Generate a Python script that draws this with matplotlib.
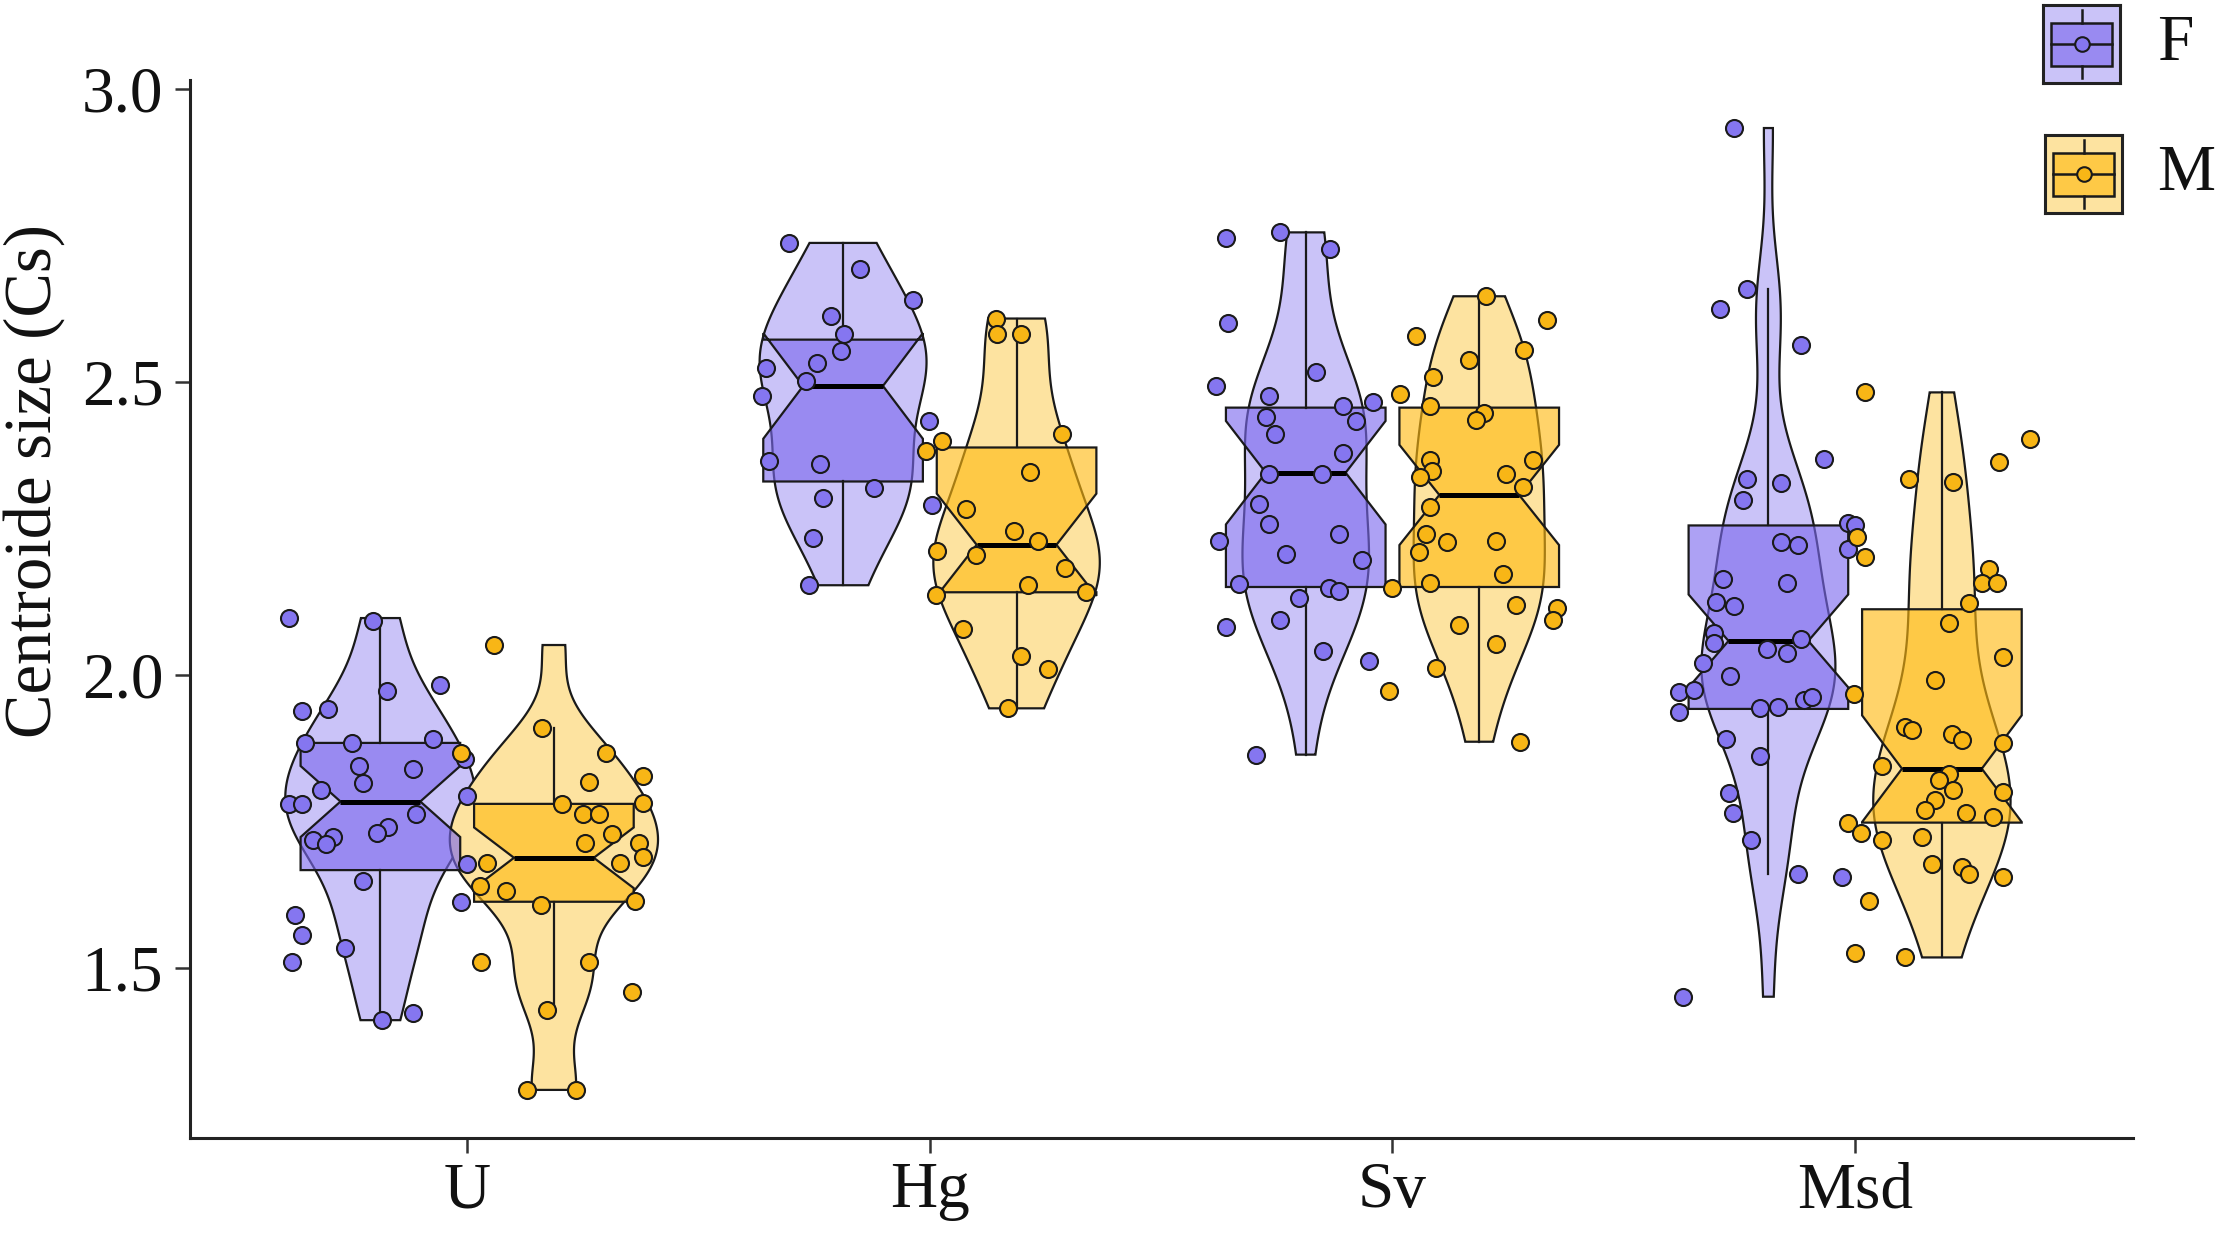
import numpy as np
import matplotlib
matplotlib.use('Agg')
import matplotlib.pyplot as plt
from matplotlib.patches import Polygon, Rectangle, Circle

plt.rcParams['font.family'] = ['Liberation Serif', 'DejaVu Serif']

categories = ['U', 'Hg', 'Sv', 'Msd']
sexes = ['F', 'M']

# ---- jittered observations: (horizontal offset from category centre, centroid size)
u_f_dx = [-0.386, -0.203, -0.058, -0.174, -0.357, -0.300, -0.350, -0.248, -0.074, -0.005, -0.234,
          -0.118, -0.225, -0.316, -0.384, -0.357, 0.000, -0.111, -0.172, -0.195, -0.333, -0.290,
          -0.306, 0.000, -0.225, -0.014, -0.372, -0.356, -0.379, -0.264, -0.184, -0.116]
u_f_y = [2.097, 2.092, 1.982, 1.972, 1.938, 1.942, 1.884, 1.884, 1.891, 1.857, 1.844,
         1.839, 1.816, 1.804, 1.780, 1.780, 1.794, 1.762, 1.741, 1.730, 1.718, 1.723,
         1.711, 1.677, 1.648, 1.613, 1.590, 1.557, 1.511, 1.534, 1.411, 1.424]

u_m_dx = [0.058, 0.162, 0.300, 0.380, 0.264, 0.380, 0.206, 0.251, 0.285, 0.312, 0.254, 0.372, 0.380,
          0.042, 0.331, 0.027, 0.085, 0.159, 0.362, -0.014, 0.029, 0.264, 0.356, 0.172, 0.130, 0.235]
u_m_y = [2.051, 1.909, 1.867, 1.828, 1.817, 1.782, 1.780, 1.762, 1.762, 1.728, 1.713, 1.713, 1.689,
         1.679, 1.679, 1.640, 1.631, 1.608, 1.615, 1.867, 1.511, 1.511, 1.459, 1.429, 1.292, 1.292]

hg_f_dx = [-0.304, -0.151, -0.037, -0.213, -0.185, -0.193, -0.244, -0.355, -0.268, -0.362, -0.002,
           -0.348, -0.237, -0.120, -0.231, 0.005, -0.253, -0.261]
hg_f_y = [2.737, 2.692, 2.639, 2.613, 2.582, 2.552, 2.532, 2.524, 2.502, 2.475, 2.434,
          2.365, 2.359, 2.319, 2.302, 2.290, 2.233, 2.153]

hg_m_dx = [0.144, 0.146, 0.197, 0.286, 0.027, -0.009, 0.217, 0.078, 0.182, 0.234, 0.016, 0.100,
           0.292, 0.212, 0.013, 0.338, 0.071, 0.197, 0.255, 0.168]
hg_m_y = [2.608, 2.582, 2.582, 2.411, 2.399, 2.382, 2.347, 2.283, 2.246, 2.228, 2.212, 2.204,
          2.182, 2.154, 2.136, 2.141, 2.078, 2.032, 2.010, 1.943]

sv_f_dx = [-0.360, -0.244, -0.135, -0.355, -0.165, -0.382, -0.266, -0.042, -0.108, -0.273, -0.078,
           -0.253, -0.108, -0.266, -0.152, -0.289, -0.266, -0.115, -0.376, -0.230, -0.065, -0.331,
           -0.137, -0.115, -0.201, -0.244, -0.360, -0.151, -0.050, -0.296]
sv_f_y = [2.745, 2.755, 2.727, 2.601, 2.516, 2.493, 2.476, 2.465, 2.458, 2.440, 2.434,
          2.411, 2.378, 2.343, 2.343, 2.292, 2.257, 2.241, 2.229, 2.207, 2.196, 2.155,
          2.149, 2.143, 2.131, 2.094, 2.081, 2.040, 2.023, 1.864]

sv_m_dx = [0.203, 0.333, 0.050, 0.284, 0.166, 0.088, 0.016, 0.080, 0.197, 0.181, 0.080, 0.304,
           0.086, 0.059, 0.246, 0.282, 0.080, 0.073, 0.118, 0.224, 0.057, 0.239, 0.080, 0.000,
           0.267, 0.355, 0.347, 0.143, 0.224, 0.093, -0.007, 0.275]
sv_m_y = [2.646, 2.606, 2.578, 2.555, 2.538, 2.509, 2.480, 2.458, 2.446, 2.435, 2.367, 2.366,
          2.348, 2.338, 2.342, 2.320, 2.287, 2.240, 2.226, 2.229, 2.210, 2.172, 2.156, 2.148,
          2.120, 2.114, 2.094, 2.086, 2.053, 2.011, 1.972, 1.886]

msd_f_dx = [-0.262, -0.233, -0.292, -0.117, -0.067, -0.233, -0.160, -0.243, -0.016, 0.000, -0.160,
            -0.124, -0.016, -0.285, -0.147, -0.300, -0.262, -0.305, -0.305, -0.117, -0.190, -0.147,
            -0.329, -0.270, -0.380, -0.349, -0.110, -0.093, -0.205, -0.167, -0.380, -0.279, -0.205,
            -0.272, -0.263, -0.226, -0.124, -0.029, -0.373]
msd_f_y = [2.933, 2.659, 2.625, 2.562, 2.368, 2.334, 2.327, 2.298, 2.260, 2.255, 2.227,
           2.221, 2.214, 2.163, 2.157, 2.124, 2.117, 2.072, 2.055, 2.062, 2.044, 2.038,
           2.020, 1.998, 1.970, 1.974, 1.958, 1.963, 1.943, 1.946, 1.937, 1.891, 1.861,
           1.798, 1.764, 1.719, 1.661, 1.655, 1.451]

msd_m_dx = [0.021, 0.378, 0.311, 0.116, 0.211, 0.005, 0.021, 0.290, 0.275, 0.306, 0.245, 0.202,
            0.320, 0.173, -0.002, 0.108, 0.123, 0.209, 0.231, 0.320, 0.058, 0.202, 0.182, 0.211,
            0.319, 0.173, 0.152, 0.240, 0.297, -0.016, 0.013, 0.058, 0.144, 0.166, 0.231, 0.247,
            0.319, 0.029, 0.000, 0.108]
msd_m_y = [2.482, 2.403, 2.363, 2.334, 2.329, 2.236, 2.202, 2.180, 2.157, 2.157, 2.122, 2.088,
           2.031, 1.991, 1.968, 1.911, 1.906, 1.900, 1.889, 1.883, 1.844, 1.831, 1.820, 1.803,
           1.800, 1.786, 1.769, 1.765, 1.758, 1.748, 1.731, 1.719, 1.724, 1.677, 1.673, 1.660,
           1.656, 1.615, 1.525, 1.518]

# ---- box statistics, order: U-F, U-M, Hg-F, Hg-M, Sv-F, Sv-M, Msd-F, Msd-M
box_q1 = [1.667, 1.613, 2.330, 2.141, 2.150, 2.150, 1.942, 1.748]
box_med = [1.784, 1.688, 2.493, 2.222, 2.345, 2.307, 2.058, 1.840]
box_q3 = [1.884, 1.780, 2.572, 2.388, 2.456, 2.456, 2.255, 2.112]
whisk_lo = [1.411, 1.429, 2.153, 1.943, 1.864, 1.886, 1.661, 1.518]
whisk_hi = [2.097, 1.909, 2.737, 2.608, 2.755, 2.646, 2.659, 2.482]

groups_dx = [u_f_dx, u_m_dx, hg_f_dx, hg_m_dx, sv_f_dx, sv_m_dx, msd_f_dx, msd_m_dx]
groups_y = [u_f_y, u_m_y, hg_f_y, hg_m_y, sv_f_y, sv_m_y, msd_f_y, msd_m_y]

violin_fill = {'F': '#CAC3F8', 'M': '#FDE3A0'}
box_fill = {'F': (0.482, 0.408, 0.933, 0.62), 'M': (1.0, 0.725, 0.06, 0.62)}
point_fill = {'F': '#8576F0', 'M': '#F8B616'}
edge = '#1a1a1a'

dodge = 0.1875
violin_half = 0.225
box_width = 0.345


def kde_nrd0(y, grid):
    y = np.asarray(y)
    n = len(y)
    sd = np.std(y, ddof=1)
    q75, q25 = np.percentile(y, [75, 25])
    lo = min(sd, (q75 - q25) / 1.34)
    bw = 0.9 * lo * n ** (-0.2)
    z = (grid[:, None] - y[None, :]) / bw
    return np.exp(-0.5 * z ** 2).sum(axis=1) / (n * bw * np.sqrt(2 * np.pi))


fig = plt.figure(figsize=(22.17, 12.38), dpi=100)
ax = fig.add_axes([0.0855, 0.0808, 0.8765, 0.8546])

# densities
grids, dens = [], []
for ys in groups_y:
    g = np.linspace(min(ys), max(ys), 512)
    grids.append(g)
    dens.append(kde_nrd0(ys, g))
dmax = max(d.max() for d in dens)

k = 0
for ci, cat in enumerate(categories):
    for si, sx in enumerate(sexes):
        centre = ci + (-dodge if sx == 'F' else dodge)
        g, d = grids[k], dens[k]
        hw = violin_half * d / dmax
        xs = np.concatenate([centre + hw, (centre - hw)[::-1]])
        yv = np.concatenate([g, g[::-1]])
        ax.add_patch(Polygon(np.column_stack([xs, yv]), closed=True, facecolor=violin_fill[sx],
                             edgecolor=edge, lw=1.6, zorder=1))
        k += 1

k = 0
for ci, cat in enumerate(categories):
    for si, sx in enumerate(sexes):
        centre = ci + (-dodge if sx == 'F' else dodge)
        n = len(groups_y[k])
        iqr = box_q3[k] - box_q1[k]
        half_ci = 1.58 * iqr / np.sqrt(n)
        stats = [dict(med=box_med[k], q1=box_q1[k], q3=box_q3[k], whislo=whisk_lo[k],
                      whishi=whisk_hi[k], cilo=box_med[k] - half_ci, cihi=box_med[k] + half_ci,
                      fliers=[])]
        ax.bxp(stats, positions=[centre], widths=box_width, shownotches=True, showcaps=False,
               showfliers=False, patch_artist=True, manage_ticks=False,
               boxprops=dict(facecolor=box_fill[sx], edgecolor=edge, lw=1.6),
               whiskerprops=dict(color=edge, lw=1.6),
               medianprops=dict(color='black', lw=3.6, solid_capstyle='butt'),
               zorder=2)
        k += 1

k = 0
for ci, cat in enumerate(categories):
    for si, sx in enumerate(sexes):
        xs = ci + np.asarray(groups_dx[k])
        ax.scatter(xs, groups_y[k], s=150, facecolor=point_fill[sx], edgecolor=edge,
                   linewidth=1.5, zorder=3)
        k += 1

ax.set_xlim(-0.6, 3.6)
ax.set_ylim(1.21, 3.015)
ax.set_xticks(range(len(categories)))
ax.set_xticklabels(categories)
ax.set_yticks([1.5, 2.0, 2.5, 3.0])
ax.set_yticklabels(['1.5', '2.0', '2.5', '3.0'])
for s in ['top', 'right']:
    ax.spines[s].set_visible(False)
for s in ['left', 'bottom']:
    ax.spines[s].set_linewidth(2.2)
    ax.spines[s].set_color('#222222')
ax.tick_params(axis='both', length=11, width=1.8, color='#333333', labelsize=47,
               labelcolor='#111111')
ax.tick_params(axis='x', pad=6)
ax.tick_params(axis='y', pad=8)

fig.text(0.0153, 0.6115, 'Centroide size (Cs)', rotation=90, ha='center', va='center',
         fontsize=48, color='#111111')

# legend keys
key_pos = {'F': (2043, 5), 'M': (2045, 135)}
W, H = 2217.0, 1238.0
for sx in sexes:
    x0, y0 = key_pos[sx]
    kax = fig.add_axes([x0 / W, 1 - (y0 + 78) / H, 77 / W, 78 / H])
    kax.set_xlim(0, 1)
    kax.set_ylim(0, 1)
    kax.set_xticks([])
    kax.set_yticks([])
    kax.set_facecolor(violin_fill[sx])
    for s in kax.spines.values():
        s.set_linewidth(2.2)
        s.set_color('#222222')
    kax.plot([0.5, 0.5], [0.06, 0.22], color=edge, lw=1.8)
    kax.plot([0.5, 0.5], [0.77, 0.94], color=edge, lw=1.8)
    kax.add_patch(Rectangle((0.1, 0.22), 0.8, 0.55, facecolor=box_fill[sx], edgecolor=edge, lw=1.8))
    kax.plot([0.1, 0.9], [0.5, 0.5], color=edge, lw=1.8)
    kax.scatter([0.5], [0.5], s=110, facecolor=point_fill[sx], edgecolor=edge, linewidth=1.5,
                zorder=5)
    fig.text(2157 / W, 1 - (y0 + 39) / H, sx, ha='left', va='center', fontsize=47,
             color='#111111')

fig.savefig('out.png', dpi=100)
